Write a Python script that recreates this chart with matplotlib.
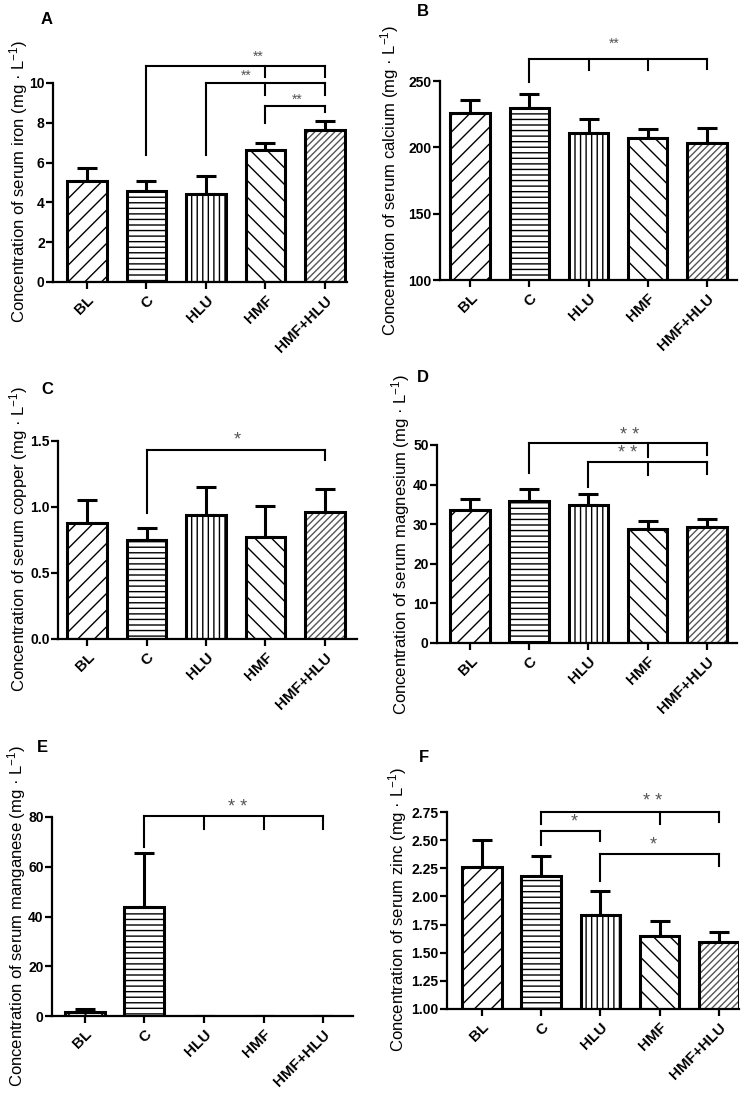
import matplotlib
matplotlib.use("Agg")
import matplotlib.pyplot as plt

plt.rcParams['font.family'] = ['Liberation Sans', 'DejaVu Sans']
plt.rcParams['mathtext.fontset'] = 'custom'
plt.rcParams['mathtext.rm'] = 'Liberation Sans'
plt.rcParams['mathtext.default'] = 'regular'
plt.rcParams['hatch.linewidth'] = 1.0

groups = ['BL', 'C', 'HLU', 'HMF', 'HMF+HLU']
hatches = ['//', '---', '|||', '\\\\', '/////']
hatch_colors = ['black', 'black', 'black', 'black', '#555555']

# means and upper error (mean + SD)
iron = [5.1, 4.55, 4.4, 6.62, 7.65]
iron_err = [5.75, 5.1, 5.35, 6.98, 8.1]
calcium = [226, 230, 210.5, 207, 203]
calcium_err = [235.7, 240, 221, 214, 214.6]
copper = [0.877, 0.751, 0.94, 0.769, 0.96]
copper_err = [1.054, 0.839, 1.15, 1.011, 1.134]
magnesium = [33.7, 35.8, 34.8, 28.7, 29.2]
magnesium_err = [36.25, 38.8, 37.5, 30.8, 31.2]
manganese = [1.7, 43.9, 0, 0, 0]
manganese_err = [2.7, 65.7, 0, 0, 0]
zinc = [2.263, 2.18, 1.835, 1.649, 1.599]
zinc_err = [2.499, 2.357, 2.05, 1.785, 1.682]

# significance brackets: (group indices, bar top, drop ends, stars, star x, star y)
iron_sig = [([1, 3, 4], 10.87, [6.4, 10.29, 10.29], '**', 2.87, 11.32),
            ([2, 3, 4], 9.98, [6.4, 9.4, 9.4], '**', 2.68, 10.35),
            ([3, 4], 8.86, [8.0, 8.56], '**', 3.54, 9.15)]
calcium_sig = [([1, 2, 3, 4], 266.6, [249.5, 258, 258, 258.8], '**', 2.43, 278)]
copper_sig = [([1, 4], 1.432, [0.953, 1.356], '*', 2.53, 1.507)]
magnesium_sig = [([1, 3, 4], 50.4, [42.9, 47.0, 47.5], '* *', 2.7, 52.3),
                 ([2, 3, 4], 45.6, [39.5, 42.4, 42.7], '* *', 2.67, 47.8)]
manganese_sig = [([1, 2, 3, 4], 80.3, [68, 75.3, 75.3, 75.3], '* *', 2.56, 84.0)]
zinc_sig = [([1, 3, 4], 2.747, [2.64, 2.64, 2.658], '* *', 2.89, 2.84),
            ([1, 2], 2.58, [2.46, 2.49], '*', 1.55, 2.66),
            ([2, 4], 2.38, [2.14, 2.27], '*', 2.9, 2.455)]

W, H = 754, 1097
fig = plt.figure(figsize=(W / 100, H / 100), dpi=100)

panels = [
    # letter, element, values, err, sig, ylim, yticks, fmt, rect(px l,r,t,b), xlim, letter pos, label pos, star size
    ('A', 'iron', iron, iron_err, iron_sig, (0, 10), [0, 2, 4, 6, 8, 10], '%d',
     (53, 347, 83, 282), (-0.57, 4.37), (47, 20), (19, 182), 10),
    ('B', 'calcium', calcium, calcium_err, calcium_sig, (100, 250), [100, 150, 200, 250], '%d',
     (440, 737, 81, 280), (-0.51, 4.51), (423, 12), (390, 180), 10),
    ('C', 'copper', copper, copper_err, copper_sig, (0, 1.5), [0, 0.5, 1.0, 1.5], '%.1f',
     (58, 357, 441, 639), (-0.49, 4.54), (47, 390), (19, 539), 13),
    ('D', 'magnesium', magnesium, magnesium_err, magnesium_sig, (0, 50), [0, 10, 20, 30, 40, 50], '%d',
     (437, 737, 445, 643), (-0.56, 4.51), (423, 378), (401, 544), 13),
    ('E', 'manganese', manganese, manganese_err, manganese_sig, (0, 80), [0, 20, 40, 60, 80], '%d',
     (52, 353, 817, 1016), (-0.55, 4.50), (42, 748), (17, 916), 13),
    ('F', 'zinc', zinc, zinc_err, zinc_sig, (1, 2.75), [1.0, 1.25, 1.5, 1.75, 2.0, 2.25, 2.5, 2.75], '%.2f',
     (447, 739, 812, 1009), (-0.59, 4.34), (424, 757), (398, 910), 13),
]

for (letter, elem, vals, err, sig, ylim, yticks, fmt, rect, xlim, lpos, ypos, ssize) in panels:
    l, r, t, b = rect
    ax = fig.add_axes([l / W, 1 - b / H, (r - l) / W, (b - t) / H])
    x = list(range(len(groups)))
    up = [e - v for v, e in zip(vals, err)]
    ax.errorbar(x, vals, yerr=[[0] * len(vals), up], fmt='none', ecolor='black',
                elinewidth=2.2, capsize=7, capthick=2.2, zorder=1)
    for i in x:
        if vals[i] > 0:
            # hatch drawn first in its own colour, outline on top
            ax.bar(i, vals[i], width=0.67, color='white', edgecolor=hatch_colors[i],
                   linewidth=0, hatch=hatches[i], zorder=2)
            ax.bar(i, vals[i], width=0.67, fill=False, edgecolor='black',
                   linewidth=2.2, zorder=3)
    ax.set_xlim(*xlim)
    ax.set_ylim(*ylim)
    ax.set_yticks(yticks)
    ax.set_yticklabels([fmt % v for v in yticks], fontsize=10, fontweight='bold')
    ax.set_xticks(x)
    ax.set_xticklabels(groups, rotation=45, ha='right', rotation_mode='anchor',
                       fontsize=11, fontweight='bold')
    ax.tick_params(axis='y', width=1.6, length=5, pad=1)
    ax.tick_params(axis='x', width=1.6, length=5, pad=3)
    for s in ['top', 'right']:
        ax.spines[s].set_visible(False)
    for s in ['left', 'bottom']:
        ax.spines[s].set_linewidth(1.6)

    for xs, top, drops, stars, sx, sy in sig:
        ax.plot([xs[0], xs[-1]], [top, top], color='black', lw=1.5, clip_on=False)
        for xi, d in zip(xs, drops):
            ax.plot([xi, xi], [top, d], color='black', lw=1.5, clip_on=False)
        ax.text(sx, sy, stars, color='#555555', fontsize=ssize, ha='center', va='center')

    fig.text(lpos[0] / W, 1 - lpos[1] / H, letter, fontsize=12, fontweight='bold',
             ha='center', va='center')
    fig.text(ypos[0] / W, 1 - ypos[1] / H,
             'Concentration of serum %s (mg · L$^{-1}$)' % elem,
             rotation=90, fontsize=12, ha='center', va='center')

fig.savefig('out.png', dpi=100)
